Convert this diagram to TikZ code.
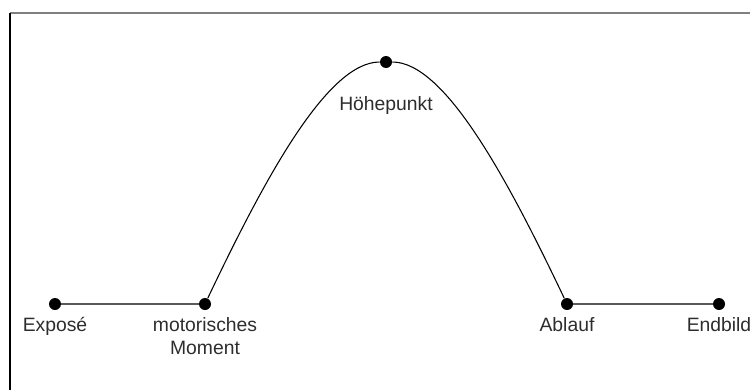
\documentclass[tikz,border=0pt]{standalone}
\usepackage{fontspec}
\setmainfont{Liberation Sans}
\usetikzlibrary{positioning}
\definecolor{labelgray}{RGB}{45,45,45}
\definecolor{framegray}{RGB}{128,128,128}
\definecolor{axisgray}{RGB}{90,90,90}

\begin{document}
\begin{tikzpicture}[
  x=0.02cm, y=0.02cm,
  font=\fontsize{11pt}{13pt}\selectfont,
  dot/.style={circle, fill=black, inner sep=0pt, minimum size=0.24cm},
  lbl/.style={text=labelgray, align=center, inner sep=1pt},
  flat/.style={line width=0.6pt, color=axisgray},
  arc/.style={line width=0.6pt, color=black}]
\useasboundingbox (0,0) rectangle (750,390);
% frame
\draw[line width=0.8pt, framegray] (10,377) -- (750,377);
\draw[line width=0.8pt, black] (10,377) -- (10,0);
% points
\node[dot] (expo) at (55,86) {};
\node[dot] (motor) at (205,86) {};
\node[dot] (hoehe) at (386,328) {};
\node[dot] (ablauf) at (567,86) {};
\node[dot] (endbild) at (719,86) {};
% lines
\draw[flat] (expo) -- (motor);
\draw[flat] (ablauf) -- (endbild);
\draw[arc] (motor) .. controls (264,210) and (327,328) .. (hoehe);
\draw[arc] (hoehe) .. controls (445,328) and (508,210) .. (ablauf);
% labels
\node[lbl, below=3pt of expo] (expo-l) {Exposé};
\node[lbl, below=3pt of motor] (motor-l) {motorisches\\Moment};
\node[lbl, below=15pt of hoehe] (hoehe-l) {Höhepunkt};
\node[lbl, below=3pt of ablauf] (ablauf-l) {Ablauf};
\node[lbl, below=3pt of endbild] (endbild-l) {Endbild};
\end{tikzpicture}
\end{document}
